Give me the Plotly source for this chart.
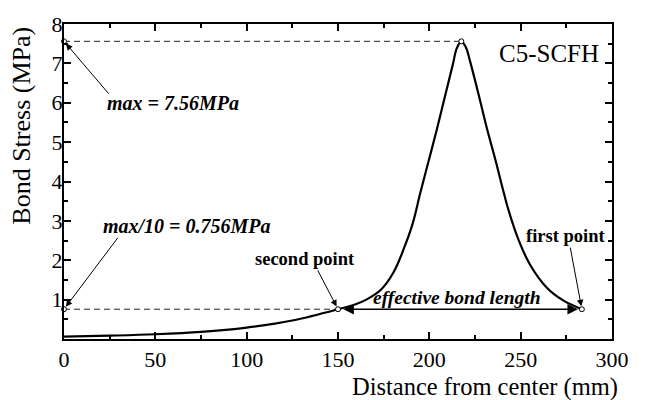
import plotly.graph_objects as go

# ---- data ----
distance_mm = [0, 25, 50, 75, 100, 125, 150, 160, 165.5, 173.5, 180.5, 186.5, 191, 195,
               199.5, 204, 208.5, 213, 215, 217.5, 220, 222.2, 226.8, 231.5, 236, 240,
               243.5, 249, 255, 264.2, 273.3, 283.5]
bond_stress = [0.06, 0.085, 0.12, 0.18, 0.29, 0.47, 0.756, 0.89, 1.0, 1.25, 1.7, 2.35,
               2.95, 3.7, 4.5, 5.3, 6.15, 7.0, 7.38, 7.56, 7.41, 7.07, 6.24, 5.35, 4.58,
               3.85, 3.25, 2.5, 1.9, 1.31, 0.98, 0.756]

max_stress = 7.56
peak_x = 217.5
tenth_stress = 0.756
second_x = 150
first_x = 283.5

x_ticks = [0, 50, 100, 150, 200, 250, 300]
x_minor = [25, 75, 125, 175, 225, 275]
y_ticks = [1, 2, 3, 4, 5, 6, 7, 8]
y_minor = [0.5, 1.5, 2.5, 3.5, 4.5, 5.5, 6.5, 7.5]

FONT = "Liberation Serif"

fig = go.Figure()

# dashed reference lines
fig.add_trace(go.Scatter(x=[0, peak_x], y=[max_stress, max_stress], mode="lines",
                         line=dict(color="#222222", width=1, dash="6px,4px"),
                         hoverinfo="skip", showlegend=False))
fig.add_trace(go.Scatter(x=[0, second_x], y=[tenth_stress, tenth_stress], mode="lines",
                         line=dict(color="#222222", width=1, dash="6px,4px"),
                         hoverinfo="skip", showlegend=False))

# main curve
fig.add_trace(go.Scatter(x=distance_mm, y=bond_stress, mode="lines",
                         line=dict(color="black", width=2.2, shape="spline", smoothing=1.0),
                         showlegend=False, cliponaxis=False))

# open circle markers
fig.add_trace(go.Scatter(x=[0, peak_x, 0, second_x, first_x],
                         y=[max_stress, max_stress, tenth_stress, tenth_stress, tenth_stress],
                         mode="markers",
                         marker=dict(symbol="circle", size=5, color="white",
                                     line=dict(color="black", width=1)),
                         showlegend=False, cliponaxis=False))

annos = []
def arrow(x, y, ax, ay, width=1, size=1.3, head=2, both=False, standoff=3):
    d = dict(x=x, y=y, ax=ax, ay=ay, xref="x", yref="y", axref="x", ayref="y",
             text="", showarrow=True, arrowhead=head, arrowsize=size,
             arrowwidth=width, arrowcolor="black", standoff=standoff)
    if both:
        d.update(arrowside="end+start", startarrowhead=head, startarrowsize=size,
                 startstandoff=standoff)
    annos.append(d)

arrow(0, max_stress, 25.2, 6.19)
arrow(0, tenth_stress, 30.1, 2.61)
arrow(second_x, tenth_stress, 138.5, 1.78)
arrow(first_x, tenth_stress, 277, 2.36)
arrow(first_x, tenth_stress, second_x, tenth_stress, width=1.3, size=1.6, both=True, standoff=4)

def label(txt, x, y, size, xanchor="center", bold=True, italic=True):
    annos.append(dict(x=x, y=y, xref="x", yref="y", text=txt, showarrow=False,
                      xanchor=xanchor, yanchor="middle",
                      font=dict(family=FONT, size=size, color="black",
                                weight="bold" if bold else "normal",
                                style="italic" if italic else "normal")))

label("max = 7.56MPa", 59.4, 6.0, 20)
label("max/10 = 0.756MPa", 67.3, 2.86, 20)
label("second point", 131.9, 2.03, 18.5, italic=False)
label("first point", 274.8, 2.61, 18.5, italic=False)
label("effective bond length", 214.9, 1.06, 19.5)
label("C5-SCFH", 294, 7.25, 25, xanchor="right", bold=False, italic=False)

# axis titles as annotations (paper coords from pixel positions)
L, R, T, B = 64, 33, 20, 61
W, H = 645, 400
pw, ph = W - L - R, H - T - B
annos.append(dict(x=(620 - L) / pw, y=(H - B - 388) / ph, xref="paper", yref="paper",
                  text="Distance from center (mm)", showarrow=False,
                  xanchor="right", yanchor="middle",
                  font=dict(family=FONT, size=24.5, color="black")))
annos.append(dict(x=(22 - L) / pw, y=(H - B - 123) / ph, xref="paper", yref="paper",
                  text="Bond Stress (MPa)", showarrow=False, textangle=-90,
                  xanchor="center", yanchor="middle",
                  font=dict(family=FONT, size=26, color="black")))

fig.update_layout(
    annotations=annos,
    width=W, height=H,
    margin=dict(l=L, r=R, t=T, b=B),
    paper_bgcolor="white", plot_bgcolor="white",
    font=dict(family=FONT, size=22, color="black"),
    xaxis=dict(range=[0, 300], tickmode="array", tickvals=x_ticks,
               ticks="inside", ticklen=7, tickwidth=1.5, tickcolor="black",
               showline=True, linewidth=2, linecolor="black", mirror="allticks",
               showgrid=False, zeroline=False,
               tickfont=dict(family=FONT, size=22, color="black"),
               minor=dict(tickmode="array", tickvals=x_minor,
                          ticks="inside", ticklen=4, tickwidth=1.5, tickcolor="black",
                          showgrid=False)),
    yaxis=dict(range=[0, 8], tickmode="array", tickvals=y_ticks,
               ticks="inside", ticklen=7, tickwidth=1.5, tickcolor="black",
               showline=True, linewidth=2, linecolor="black", mirror="allticks",
               showgrid=False, zeroline=False, ticklabelstandoff=-5,
               tickfont=dict(family=FONT, size=22, color="black"),
               minor=dict(tickmode="array", tickvals=y_minor,
                          ticks="inside", ticklen=4, tickwidth=1.5, tickcolor="black",
                          showgrid=False)),
)

fig.write_html("out.html")
